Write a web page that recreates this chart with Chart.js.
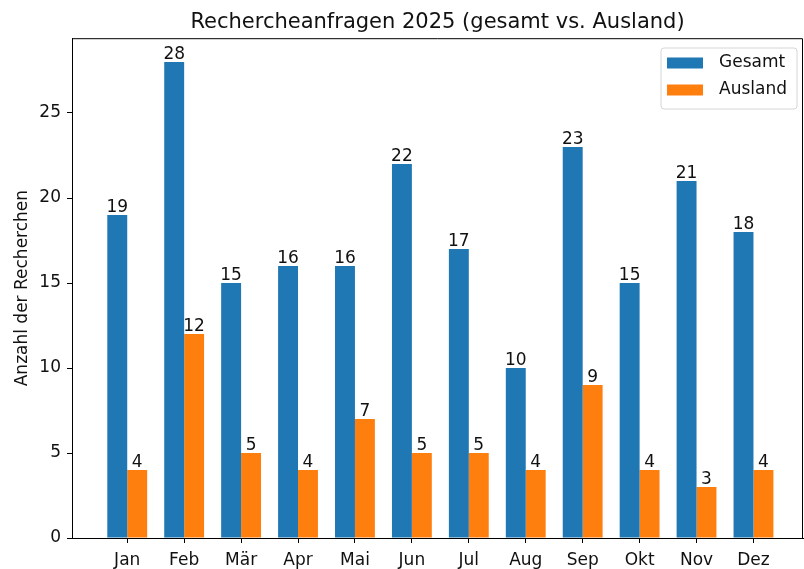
<!DOCTYPE html>
<html>
<head>
<meta charset="utf-8">
<script src="https://cdn.jsdelivr.net/npm/chart.js@4/dist/chart.umd.min.js"></script>
<style>
  body { margin: 0; background: #fff; }
  canvas { display: block; }
</style>
</head>
<body>
<canvas id="researchChart" width="804" height="569"></canvas>
<script>
var months = ["Jan", "Feb", "Mär", "Apr", "Mai", "Jun", "Jul", "Aug", "Sep", "Okt", "Nov", "Dez"];
var totalRequests = [19, 28, 15, 16, 16, 22, 17, 10, 23, 15, 21, 18];
var foreignRequests = [4, 12, 5, 4, 7, 5, 5, 4, 9, 4, 3, 4];
var yTicks = [0, 5, 10, 15, 20, 25];

var FONT = "'DejaVu Sans', sans-serif";
var TEXT = "#111";

function toPoints(values) {
  var pts = [];
  for (var i = 0; i < values.length; i++) {
    pts.push({ x: i, y: values[i] });
  }
  return pts;
}

// value labels above every bar
var barLabels = {
  id: "barLabels",
  afterDatasetsDraw: function (chart) {
    var ctx = chart.ctx;
    ctx.save();
    ctx.font = "17px " + FONT;
    ctx.fillStyle = TEXT;
    ctx.textAlign = "center";
    ctx.textBaseline = "alphabetic";
    chart.data.datasets.forEach(function (ds, d) {
      var meta = chart.getDatasetMeta(d);
      meta.data.forEach(function (bar, i) {
        ctx.fillText(ds.data[i].y, bar.x, bar.y - 3);
      });
    });
    ctx.restore();
  }
};

// top/right spines and the boxed legend inside the plot
var frameAndLegend = {
  id: "frameAndLegend",
  afterDraw: function (chart) {
    var ctx = chart.ctx;
    var a = chart.chartArea;
    ctx.save();
    ctx.strokeStyle = "#000";
    ctx.lineWidth = 1;
    ctx.beginPath();
    ctx.moveTo(a.left, a.top + 0.5);
    ctx.lineTo(a.right - 0.5, a.top + 0.5);
    ctx.lineTo(a.right - 0.5, a.bottom);
    ctx.stroke();

    var x = 661, y = 48, w = 136, h = 61, r = 3;
    ctx.beginPath();
    ctx.moveTo(x + r, y);
    ctx.arcTo(x + w, y, x + w, y + h, r);
    ctx.arcTo(x + w, y + h, x, y + h, r);
    ctx.arcTo(x, y + h, x, y, r);
    ctx.arcTo(x, y, x + w, y, r);
    ctx.closePath();
    ctx.fillStyle = "rgba(255,255,255,0.8)";
    ctx.fill();
    ctx.strokeStyle = "#d6d6d6";
    ctx.stroke();

    ctx.font = "17px " + FONT;
    ctx.textBaseline = "middle";
    ctx.textAlign = "left";
    chart.data.datasets.forEach(function (ds, d) {
      var cy = 63 + d * 27;
      ctx.fillStyle = ds.backgroundColor;
      ctx.fillRect(667, cy - 5.5, 36, 11);
      ctx.fillStyle = TEXT;
      ctx.fillText(ds.label, 719, cy);
    });
    ctx.restore();
  }
};

var ctx = document.getElementById("researchChart").getContext("2d");
var chart = new Chart(ctx, {
  type: "bar",
  data: {
    datasets: [
      {
        label: "Gesamt",
        data: toPoints(totalRequests),
        backgroundColor: "#1f77b4",
        borderWidth: 0
      },
      {
        label: "Ausland",
        data: toPoints(foreignRequests),
        backgroundColor: "#ff7f0e",
        borderWidth: 0
      }
    ]
  },
  options: {
    responsive: false,
    animation: false,
    devicePixelRatio: 1,
    categoryPercentage: 0.7,
    barPercentage: 1.0,
    layout: { padding: { left: 0, right: 1, top: 0, bottom: 0 } },
    plugins: {
      legend: { display: false },
      tooltip: { enabled: false },
      title: {
        display: true,
        fullSize: false,
        text: "Rechercheanfragen 2025 (gesamt vs. Ausland)",
        color: TEXT,
        font: { family: FONT, size: 21, weight: "normal", lineHeight: 1.2 },
        padding: { top: 10, bottom: 3 }
      }
    },
    scales: {
      x: {
        type: "linear",
        min: -0.97,
        max: 11.87,
        offset: false,
        grid: { display: true, offset: false, drawOnChartArea: false, drawTicks: true, tickLength: 5, tickColor: "#000" },
        border: { display: true, color: "#000", width: 1 },
        afterBuildTicks: function (axis) {
          axis.ticks = months.map(function (m, i) { return { value: i }; });
        },
        afterFit: function (axis) { axis.height = 31; },
        ticks: {
          autoSkip: false,
          maxRotation: 0,
          padding: 7,
          color: TEXT,
          font: { family: FONT, size: 17 },
          callback: function (v) { return months[v]; }
        }
      },
      y: {
        min: 0,
        max: 29.4,
        grid: { display: true, drawOnChartArea: false, drawTicks: true, tickLength: 5, tickColor: "#000" },
        border: { display: true, color: "#000", width: 1 },
        afterBuildTicks: function (axis) {
          axis.ticks = yTicks.map(function (t) { return { value: t }; });
        },
        afterFit: function (axis) { axis.width = 72; },
        title: {
          display: true,
          text: "Anzahl der Recherchen",
          color: TEXT,
          font: { family: FONT, size: 17 },
          padding: { top: 12, bottom: 0 }
        },
        ticks: {
          padding: 6,
          color: TEXT,
          font: { family: FONT, size: 17 }
        }
      }
    }
  },
  plugins: [barLabels, frameAndLegend]
});
</script>
</body>
</html>
